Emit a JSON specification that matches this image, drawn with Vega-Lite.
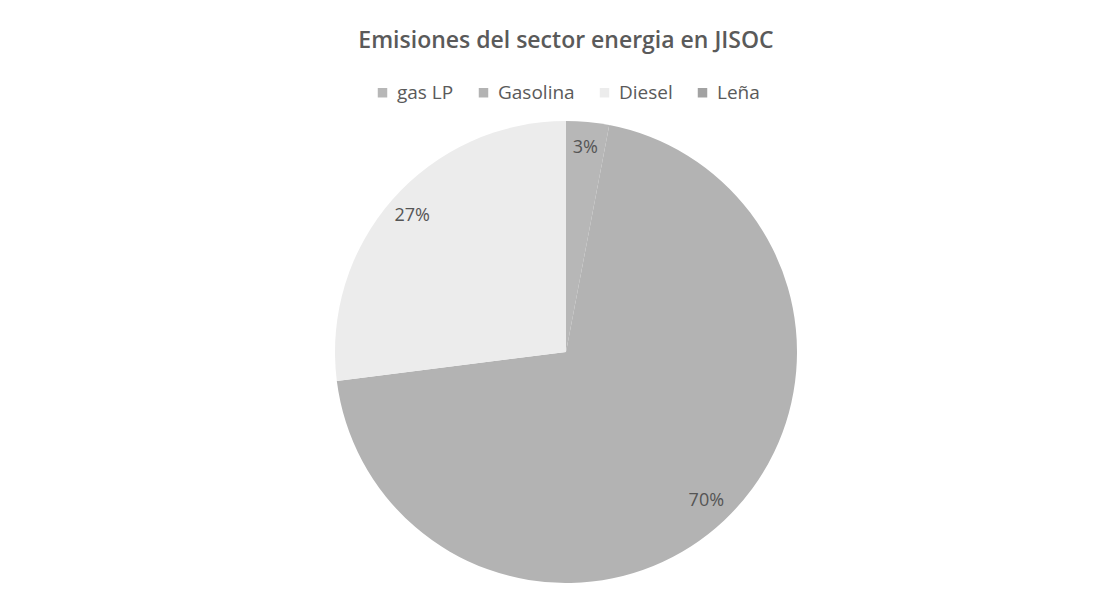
{
  "$schema": "https://vega.github.io/schema/vega-lite/v6.json",
  "autosize": "none",
  "padding": {"left": 335, "top": 121, "right": 0, "bottom": 0},
  "width": 462,
  "height": 462,
  "background": "#ffffff",
  "config": {
    "view": {"stroke": null},
    "font": "Open Sans",
    "legend": {"layout": {"top": {"anchor": "middle"}}}
  },
  "title": {
    "text": "Emisiones del sector energia en JISOC",
    "fontSize": 23,
    "fontWeight": 600,
    "color": "#5a5a5a",
    "anchor": "middle",
    "offset": 30
  },
  "data": {
    "values": [
      {"fuente": "gas LP", "pct": 3, "orden": 1, "etiqueta": "3%"},
      {"fuente": "Gasolina", "pct": 70, "orden": 2, "etiqueta": "70%"},
      {"fuente": "Diesel", "pct": 27, "orden": 3, "etiqueta": "27%"},
      {"fuente": "Leña", "pct": 0, "orden": 4, "etiqueta": "0%"}
    ]
  },
  "encoding": {
    "theta": {"field": "pct", "type": "quantitative", "stack": true},
    "order": {"field": "orden", "type": "quantitative"}
  },
  "layer": [
    {
      "mark": {"type": "arc"},
      "encoding": {
        "color": {
          "field": "fuente",
          "type": "nominal",
          "scale": {
            "domain": ["gas LP", "Gasolina", "Diesel", "Leña"],
            "range": ["#b7b7b7", "#b3b3b3", "#ececec", "#a2a2a2"]
          },
          "legend": {
            "orient": "top",
            "direction": "horizontal",
            "title": null,
            "symbolType": "square",
            "symbolSize": 90,
            "symbolStrokeWidth": 0,
            "labelFontSize": 19,
            "labelColor": "#5a5a5a",
            "labelOffset": 5,
            "columnPadding": 20,
            "offset": 18
          }
        }
      }
    },
    {
      "transform": [{"filter": "datum.pct > 0"}],
      "mark": {"type": "text", "radius": 205, "fontSize": 18, "color": "#555555"},
      "encoding": {
        "text": {"field": "etiqueta"}
      }
    }
  ]
}
